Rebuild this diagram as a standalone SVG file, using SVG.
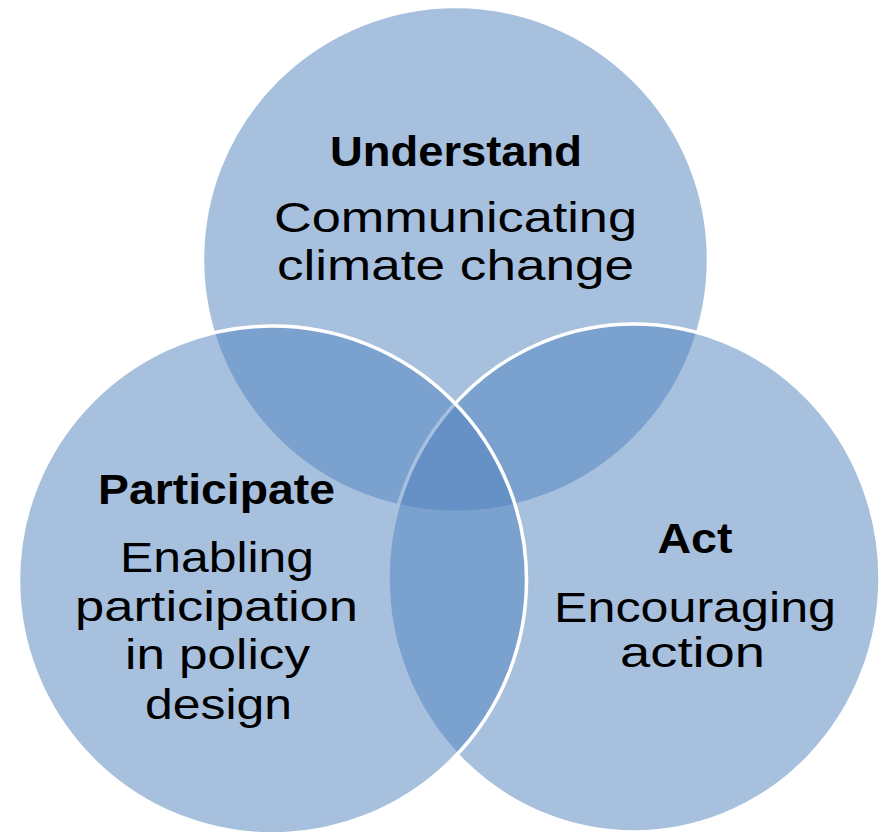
<svg xmlns="http://www.w3.org/2000/svg" width="879" height="832" viewBox="0 0 879 832">
<style>
.c{fill:#4F81BD;fill-opacity:0.5;stroke:#FFFFFF;stroke-width:3.5}
.t{font-family:"Liberation Sans",Arial,sans-serif;font-size:42px;fill:#000;text-anchor:middle}
.b{font-weight:bold}
</style>
<rect width="879" height="832" fill="#FFFFFF"/>
<g id="understand">
<circle class="c" cx="455.5" cy="259.5" r="253"/>
<text class="t b" x="456" y="165.5" textLength="252" lengthAdjust="spacingAndGlyphs">Understand</text>
<text class="t" x="455.5" y="232" textLength="363" lengthAdjust="spacingAndGlyphs">Communicating</text>
<text class="t" x="455.5" y="279.5" textLength="357" lengthAdjust="spacingAndGlyphs">climate change</text>
</g>
<g id="act">
<ellipse class="c" cx="634" cy="578" rx="246" ry="254"/>
<text class="t b" x="695" y="553" textLength="75" lengthAdjust="spacingAndGlyphs">Act</text>
<text class="t" x="695" y="622" textLength="282" lengthAdjust="spacingAndGlyphs">Encouraging</text>
<text class="t" x="692.5" y="667" textLength="145" lengthAdjust="spacingAndGlyphs">action</text>
</g>
<g id="participate">
<circle class="c" cx="272.5" cy="580" r="254"/>
<text class="t b" x="216.5" y="503.5" textLength="237" lengthAdjust="spacingAndGlyphs">Participate</text>
<text class="t" x="217" y="572" textLength="194" lengthAdjust="spacingAndGlyphs">Enabling</text>
<text class="t" x="216.5" y="620.5" textLength="283" lengthAdjust="spacingAndGlyphs">participation</text>
<text class="t" x="217.5" y="669" textLength="185" lengthAdjust="spacingAndGlyphs">in policy</text>
<text class="t" x="218.5" y="718.5" textLength="147" lengthAdjust="spacingAndGlyphs">design</text>
</g>
</svg>
